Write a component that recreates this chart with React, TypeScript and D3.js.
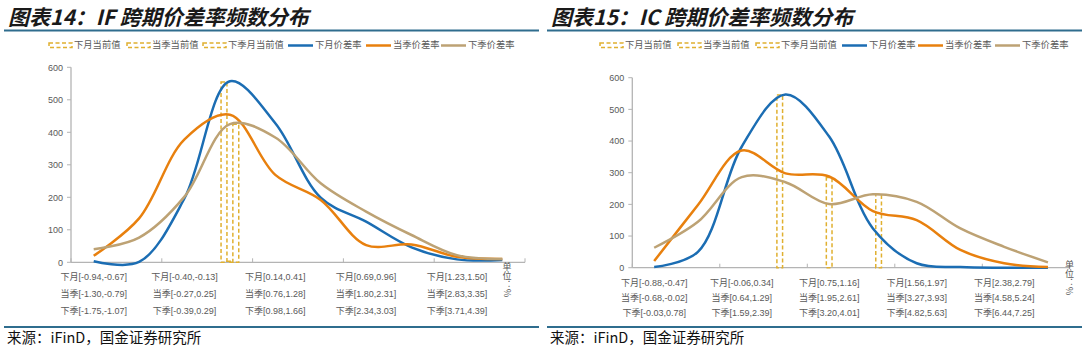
import React from 'react';
import * as d3 from 'd3';

// ---- IF 跨期价差率 (left) ----
const IF_NEAR_RATE = [3, 1, 197, 557, 428, 199, 125, 46, 9, 7];
const IF_CUR_RATE = [20, 135, 378, 454, 269, 192, 53, 55, 17, 10];
const IF_NEXT_RATE = [40, 76, 202, 425, 384, 243, 156, 84, 22, 10];
const IF_NEAR_NOW = [null, null, null, 555, null, null, null, null, null, null];
const IF_CUR_NOW = [null, null, null, 3, null, null, null, null, null, null];
const IF_NEXT_NOW = [null, null, null, 425, null, null, null, null, null, null];
const IF_TICK_NEAR = ['下月[-0.94,-0.67]', '下月[-0.40,-0.13]', '下月[0.14,0.41]', '下月[0.69,0.96]', '下月[1.23,1.50]'];
const IF_TICK_CUR = ['当季[-1.30,-0.79]', '当季[-0.27,0.25]', '当季[0.76,1.28]', '当季[1.80,2.31]', '当季[2.83,3.35]'];
const IF_TICK_NEXT = ['下季[-1.75,-1.07]', '下季[-0.39,0.29]', '下季[0.98,1.66]', '下季[2.34,3.03]', '下季[3.71,4.39]'];

// ---- IC 跨期价差率 (right) ----
const IC_NEAR_RATE = [2, 50, 382, 547, 414, 124, 14, 2, 0, 0];
const IC_CUR_RATE = [21, 198, 370, 298, 288, 179, 150, 56, 14, 2];
const IC_NEXT_RATE = [63, 145, 286, 270, 201, 232, 208, 124, 66, 17];
const IC_NEAR_NOW = [null, null, null, 545, null, null, null, null, null, null];
const IC_CUR_NOW = [null, null, null, null, 285, null, null, null, null, null];
const IC_NEXT_NOW = [null, null, null, null, null, 232, null, null, null, null];
const IC_TICK_NEAR = ['下月[-0.88,-0.47]', '下月[-0.06,0.34]', '下月[0.75,1.16]', '下月[1.56,1.97]', '下月[2.38,2.79]'];
const IC_TICK_CUR = ['当季[-0.68,-0.02]', '当季[0.64,1.29]', '当季[1.95,2.61]', '当季[3.27,3.93]', '当季[4.58,5.24]'];
const IC_TICK_NEXT = ['下季[-0.03,0.78]', '下季[1.59,2.39]', '下季[3.20,4.01]', '下季[4.82,5.63]', '下季[6.44,7.25]'];

const Y_TICKS = [0, 100, 200, 300, 400, 500, 600];
const LEGEND_BARS = ['下月当前值', '当季当前值', '下季月当前值'];
const LEGEND_LINES = ['下月价差率', '当季价差率', '下季价差率'];

const BLUE = '#1b6db3';
const ORANGE = '#e8800e';
const TAN = '#bda274';
const GOLD = '#e0b030';
const AXIS = '#b4b4b4';
const TXT = '#595959';
const RULE = '#2f6d8e';
const FONT = "'Liberation Sans', Arial, 'Noto Sans CJK SC', sans-serif";
const CJK = "'Noto Sans CJK SC', sans-serif";

function Panel(props) {
  const { ox, title, plot, rows, legendX, unitY, unitX, rates, nows, ticks } = props;
  const x = d3.scaleBand().domain(d3.range(rates[0].length)).range([plot.left, plot.right]);
  const bw = x.bandwidth();
  const cx = (i) => x(i) + bw / 2;
  const y = d3.scaleLinear().domain([0, 600]).range([plot.bottom, plot.top]);
  const line = d3.line().x((d, i) => cx(i)).y((d) => y(d)).curve(d3.curveCatmullRom.alpha(0.5));
  const colors = [BLUE, ORANGE, TAN];
  const barW = bw * 0.13;

  return (
    <g>
      <text x={ox + 8} y={24.5} fontFamily={CJK} fontSize={21} fontWeight={700} fontStyle="italic" fill="#1a1a1a">{title}</text>
      <line x1={ox + 4} x2={ox + 539} y1={30.5} y2={30.5} stroke={RULE} strokeWidth={2} />

      {/* legend */}
      {LEGEND_BARS.map((t, k) => (
        <g key={'lb' + k}>
          <rect x={legendX[k]} y={43} width={23} height={4.5} fill="none" stroke={GOLD} strokeWidth={1.5} strokeDasharray="4,2.5" />
          <text x={legendX[k] + 25} y={48.3} fontFamily={CJK} fontSize={9.3} fill={TXT}>{t}</text>
        </g>
      ))}
      {LEGEND_LINES.map((t, k) => (
        <g key={'ll' + k}>
          <line x1={legendX[k + 3]} x2={legendX[k + 3] + 25} y1={45.5} y2={45.5} stroke={colors[k]} strokeWidth={2.5} />
          <text x={legendX[k + 3] + 27} y={48.3} fontFamily={CJK} fontSize={9.3} fill={TXT}>{t}</text>
        </g>
      ))}

      {/* y axis */}
      <line x1={plot.left} x2={plot.left} y1={plot.top} y2={plot.bottom} stroke={AXIS} strokeWidth={1.3} />
      {Y_TICKS.map((v) => (
        <g key={'y' + v}>
          <line x1={plot.left - 4} x2={plot.left} y1={y(v)} y2={y(v)} stroke={AXIS} strokeWidth={1} />
          <text x={plot.left - 8} y={y(v) + 3.2} textAnchor="end" fontFamily={FONT} fontSize={9} fill={TXT}>{v}</text>
        </g>
      ))}

      {/* x axis */}
      <line x1={plot.left} x2={plot.right} y1={plot.bottom} y2={plot.bottom} stroke={AXIS} strokeWidth={1.3} />
      {d3.range(0, rates[0].length + 1, 2).map((i) => {
        const xx = plot.left + i * bw;
        return <line key={'xt' + i} x1={xx} x2={xx} y1={plot.bottom} y2={plot.bottom - 4} stroke={AXIS} strokeWidth={1} />;
      })}
      {ticks[0].map((t, j) => (
        <g key={'xl' + j}>
          {ticks.map((arr, r) => (
            <text key={r} x={cx(j * 2)} y={rows[r] + 3.3} textAnchor="middle" fontFamily={FONT} fontSize={9} fill={TXT}>{arr[j]}</text>
          ))}
        </g>
      ))}
      <text x={unitX} y={unitY} fontFamily={CJK} fontSize={9} fill={TXT} style={{ writingMode: 'vertical-rl' }}>单位：%</text>

      {/* current-value bars */}
      {nows.map((series, k) =>
        series.map((v, i) =>
          v == null ? null : (
            <rect key={'b' + k + '-' + i} x={cx(i) + (k - 1.5) * barW} y={y(v)} width={barW} height={y(0) - y(v)}
              fill="none" stroke={GOLD} strokeWidth={1.5} strokeDasharray="4,2.5" />
          )
        )
      )}

      {/* rate curves */}
      {rates.map((s, k) => (
        <path key={'l' + k} d={line(s)} fill="none" stroke={colors[k]} strokeWidth={2.5} />
      ))}

      <line x1={ox + 4} x2={ox + 539} y1={327} y2={327} stroke={RULE} strokeWidth={2} />
      <text x={ox + 7} y={343} fontFamily={CJK} fontSize={14.5} fill="#111">来源：iFinD，国金证券研究所</text>
    </g>
  );
}

export default function App() {
  return (
    <svg width={1086} height={350} style={{ position: 'absolute', left: 0, top: 0, background: '#fff' }}>
      <rect width={1086} height={350} fill="#fff" />
      <Panel
        ox={0}
        title="图表14：IF 跨期价差率频数分布"
        plot={{ left: 71, right: 525, top: 67.3, bottom: 262.3 }}
        rows={[276.7, 293.7, 310.4]}
        legendX={[49, 127, 203, 288, 366, 441]}
        unitX={507}
        unitY={262}
        rates={[IF_NEAR_RATE, IF_CUR_RATE, IF_NEXT_RATE]}
        nows={[IF_NEAR_NOW, IF_CUR_NOW, IF_NEXT_NOW]}
        ticks={[IF_TICK_NEAR, IF_TICK_CUR, IF_TICK_NEXT]}
      />
      <Panel
        ox={543}
        title="图表15：IC 跨期价差率频数分布"
        plot={{ left: 632.3, right: 1069.8, top: 77.7, bottom: 267.7 }}
        rows={[282.6, 297.2, 312.8]}
        legendX={[600, 678, 756, 842, 918, 995]}
        unitX={1069.5}
        unitY={260}
        rates={[IC_NEAR_RATE, IC_CUR_RATE, IC_NEXT_RATE]}
        nows={[IC_NEAR_NOW, IC_CUR_NOW, IC_NEXT_NOW]}
        ticks={[IC_TICK_NEAR, IC_TICK_CUR, IC_TICK_NEXT]}
      />
    </svg>
  );
}
